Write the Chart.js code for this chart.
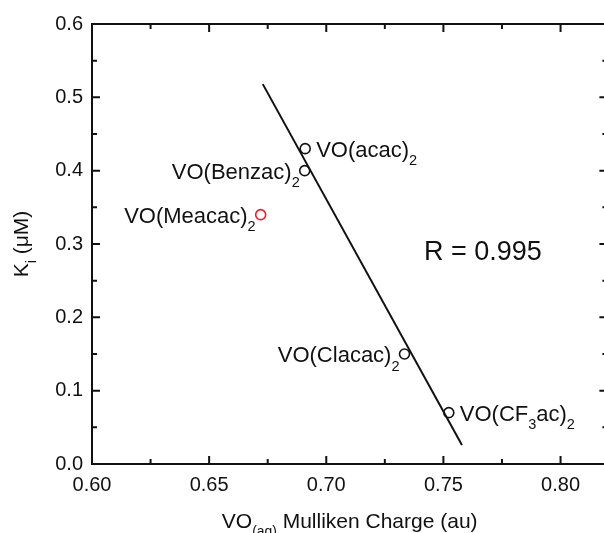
<!DOCTYPE html>
<html>
<head>
<meta charset="utf-8">
<script src="https://cdn.jsdelivr.net/npm/chart.js@4/dist/chart.umd.min.js"></script>
<style>
  html, body { margin: 0; padding: 0; background: #fff; overflow: hidden; }
  #wrap { width: 614px; height: 533px; }
</style>
</head>
<body>
<div id="wrap"><canvas id="kiChart"></canvas></div>
<script>
// ---------- data ----------
const compounds = ['VO(acac)_{2}', 'VO(Benzac)_{2}', 'VO(Meacac)_{2}', 'VO(Clacac)_{2}', 'VO(CF_{3}ac)_{2}'];
const mullikenCharge = [0.691, 0.6908, 0.672, 0.7334, 0.7523];
const kiValues = [0.43, 0.40, 0.34, 0.15, 0.07];

// linear fit drawn in the figure (end points)
const fitX = [0.6729, 0.7579];
const fitY = [0.518, 0.026];

const xTicks = [0.60, 0.65, 0.70, 0.75, 0.80];
const yTicks = [0.0, 0.1, 0.2, 0.3, 0.4, 0.5, 0.6];

// ---------- styling ----------
const FONT = "'Liberation Sans', Arial, sans-serif";
const pointColors = ['#111', '#111', '#e8202a', '#111', '#111'];
const labelSide = ['right', 'left', 'left', 'left', 'right'];

// draws text with _{...} subscripts
function drawRich(ctx, str, x, y, size, align) {
    const parts = [];
    let i = 0;
    while (i < str.length) {
        if (str.startsWith('_{', i)) {
            const end = str.indexOf('}', i);
            parts.push({ t: str.slice(i + 2, end), sub: true });
            i = end + 1;
        } else {
            let j = str.indexOf('_{', i);
            if (j < 0) j = str.length;
            parts.push({ t: str.slice(i, j), sub: false });
            i = j;
        }
    }
    const subSize = size * 0.66;
    let total = 0;
    parts.forEach(p => {
        ctx.font = (p.sub ? subSize : size) + 'px ' + FONT;
        p.w = ctx.measureText(p.t).width;
        total += p.w;
    });
    if (align === 'right') x -= total;
    if (align === 'center') x -= total / 2;
    ctx.textAlign = 'left';
    ctx.textBaseline = 'alphabetic';
    parts.forEach(p => {
        ctx.font = (p.sub ? subSize : size) + 'px ' + FONT;
        ctx.fillText(p.t, x, p.sub ? y + size * 0.4 : y);
        x += p.w;
    });
}

// frame, inward ticks, point labels and axis titles
const decorPlugin = {
    id: 'decor',
    afterDraw(chart) {
        const { ctx, chartArea: a, scales: { x, y } } = chart;
        ctx.save();
        ctx.strokeStyle = '#111';
        ctx.fillStyle = '#111';
        ctx.lineWidth = 2;
        ctx.strokeRect(a.left, a.top, a.right - a.left, a.bottom - a.top);

        const major = 8, minor = 5;
        ctx.beginPath();
        xTicks.forEach(v => {
            const px = x.getPixelForValue(v);
            ctx.moveTo(px, a.bottom); ctx.lineTo(px, a.bottom - major);
            ctx.moveTo(px, a.top); ctx.lineTo(px, a.top + major);
            const mv = v + 0.025;
            if (mv < x.max) {
                const mx = x.getPixelForValue(mv);
                ctx.moveTo(mx, a.bottom); ctx.lineTo(mx, a.bottom - minor);
                ctx.moveTo(mx, a.top); ctx.lineTo(mx, a.top + minor);
            }
        });
        yTicks.forEach(v => {
            const py = y.getPixelForValue(v);
            ctx.moveTo(a.left, py); ctx.lineTo(a.left + major, py);
            ctx.moveTo(a.right, py); ctx.lineTo(a.right - major, py);
            const mv = v + 0.05;
            if (mv < y.max) {
                const my = y.getPixelForValue(mv);
                ctx.moveTo(a.left, my); ctx.lineTo(a.left + minor, my);
                ctx.moveTo(a.right, my); ctx.lineTo(a.right - minor, my);
            }
        });
        ctx.stroke();

        // point labels
        compounds.forEach((name, k) => {
            const px = x.getPixelForValue(mullikenCharge[k]);
            const py = y.getPixelForValue(kiValues[k]);
            if (labelSide[k] === 'right') drawRich(ctx, name, px + 11, py + 8, 22, 'left');
            else drawRich(ctx, name, px - 5, py + 8, 22, 'right');
        });

        // correlation coefficient
        drawRich(ctx, 'R = 0.995', x.getPixelForValue(0.7417), y.getPixelForValue(0.278), 27, 'left');

        // axis titles
        drawRich(ctx, 'VO_{(aq)} Mulliken Charge (au)', (a.left + a.right) / 2, 528, 21, 'center');
        ctx.translate(28, (a.top + a.bottom) / 2);
        ctx.rotate(-Math.PI / 2);
        drawRich(ctx, 'K_{i} (\u03bcM)', 0, 0, 21, 'center');
        ctx.restore();
    }
};

const points = mullikenCharge.map((v, k) => ({ x: v, y: kiValues[k] }));
const fitLine = fitX.map((v, k) => ({ x: v, y: fitY[k] }));

new Chart(document.getElementById('kiChart'), {
    type: 'scatter',
    data: {
        datasets: [
            {
                label: 'fit',
                data: fitLine,
                showLine: true,
                borderColor: '#111',
                borderWidth: 2,
                pointRadius: 0
            },
            {
                label: 'Ki',
                data: points,
                pointRadius: 5,
                pointBorderWidth: 1.6,
                pointBorderColor: pointColors,
                pointBackgroundColor: 'rgba(255,255,255,0)'
            }
        ]
    },
    options: {
        responsive: true,
        maintainAspectRatio: false,
        animation: false,
        layout: { padding: { top: 24, right: 0, left: 0, bottom: 0 } },
        plugins: { legend: { display: false }, tooltip: { enabled: false } },
        scales: {
            x: {
                type: 'linear',
                min: 0.60,
                max: 0.82,
                grid: { display: false, drawTicks: false },
                border: { display: false },
                afterFit: s => { s.height = 69; },
                ticks: {
                    stepSize: 0.05,
                    includeBounds: false,
                    padding: 9,
                    color: '#111',
                    font: { family: FONT, size: 20 },
                    callback: v => v.toFixed(2)
                }
            },
            y: {
                min: 0,
                max: 0.6,
                grid: { display: false, drawTicks: false },
                border: { display: false },
                afterFit: s => { s.width = 92; },
                ticks: {
                    stepSize: 0.1,
                    padding: 9,
                    color: '#111',
                    font: { family: FONT, size: 20 },
                    callback: v => v.toFixed(1)
                }
            }
        }
    },
    plugins: [decorPlugin]
});
</script>
</body>
</html>
